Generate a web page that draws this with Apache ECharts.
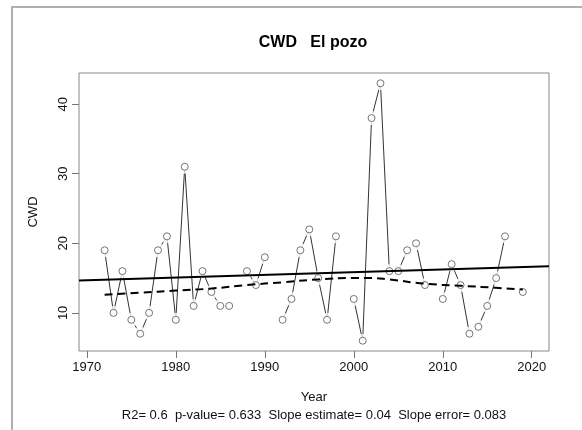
<!DOCTYPE html>
<html>
<head>
<meta charset="utf-8">
<script src="https://cdn.jsdelivr.net/npm/echarts@6/dist/echarts.min.js"></script>
<style>html,body{margin:0;padding:0;background:#fff}#c{width:582px;height:430px}</style>
</head>
<body>
<div id="c"></div>
<script>
// ---- data ----
const years = [1972,1973,1974,1975,1976,1977,1978,1979,1980,1981,1982,1983,1984,1985,1986,1987,1988,1989,1990,1991,1992,1993,1994,1995,1996,1997,1998,1999,2000,2001,2002,2003,2004,2005,2006,2007,2008,2009,2010,2011,2012,2013,2014,2015,2016,2017,2018,2019];
const cwd   = [19,10,16,9,7,10,19,21,9,31,11,16,13,11,11,null,16,14,18,null,9,12,19,22,15,9,21,null,12,6,38,43,16,16,19,20,14,null,12,17,14,7,8,11,15,21,null,13];
const trendYears = [1969.12, 2021.94];
const trendValues = [14.65, 16.7];
const smoothYears = [1972,1976,1980,1984,1988,1992,1996,2000,2002,2004,2008,2012,2016,2019];
const smoothValues = [12.6,12.9,13.2,13.5,14.0,14.4,14.8,15.0,15.0,14.8,14.2,13.9,13.6,13.35];
const xTicks = [1970,1980,1990,2000,2010,2020];
const yTicks = [10,20,30,40];
const titleText = 'CWD   El pozo';
const xName = 'Year';
const yName = 'CWD';
const statsText = 'R2= 0.6  p-value= 0.633  Slope estimate= 0.04  Slope error= 0.083';

const pts = years.map((y,i)=>[y,cwd[i]]);
const valid = pts.filter(p=>p[1]!==null);
const font = 'Liberation Sans, Arial, sans-serif';

const chart = echarts.init(document.getElementById('c'), null, {renderer:'canvas'});
chart.setOption({
  animation:false,
  backgroundColor:'#fff',
  grid:{left:79,right:33,top:73,bottom:79,show:true,borderColor:'#888',borderWidth:1,backgroundColor:'transparent'},
  graphic:[
    {type:'rect',shape:{x:12,y:7,width:620,height:460},style:{fill:'none',stroke:'#b0b0b0',lineWidth:2},silent:true,z:-1},
    {type:'text',x:313,y:43,style:{text:titleText,font:'bold 16px '+font,fill:'#000',textAlign:'center',textVerticalAlign:'middle'}},
    {type:'text',x:314,y:397,style:{text:xName,font:'13px '+font,fill:'#111',textAlign:'center',textVerticalAlign:'middle'}},
    {type:'text',x:314,y:415,style:{text:statsText,font:'13px '+font,fill:'#111',textAlign:'center',textVerticalAlign:'middle'}},
    {type:'text',x:33,y:212,rotation:Math.PI/2,style:{text:yName,font:'13px '+font,fill:'#111',textAlign:'center',textVerticalAlign:'middle'}}
  ],
  xAxis:{type:'value',min:1969.12,max:2021.94,
    axisLine:{show:false},splitLine:{show:false},
    axisTick:{show:true,length:7,customValues:xTicks,lineStyle:{color:'#777'}},
    axisLabel:{customValues:xTicks,formatter:v=>String(v),fontFamily:font,fontSize:13,color:'#111',margin:10}},
  yAxis:{type:'value',min:4.52,max:44.48,
    axisLine:{show:false},splitLine:{show:false},
    axisTick:{show:true,length:7,customValues:yTicks,lineStyle:{color:'#777'}},
    axisLabel:{customValues:yTicks,formatter:v=>String(v),rotate:90,fontFamily:font,fontSize:13,color:'#111',margin:9}},
  series:[
    {type:'line',data:pts,connectNulls:false,showSymbol:false,lineStyle:{color:'#333',width:1},z:1,silent:true},
    {type:'scatter',data:valid,symbol:'circle',symbolSize:14,itemStyle:{color:'#fff'},z:2,silent:true},
    {type:'scatter',data:valid,symbol:'circle',symbolSize:7,itemStyle:{color:'#fff',borderColor:'#555',borderWidth:1},z:3,silent:true},
    {type:'line',data:trendYears.map((y,i)=>[y,trendValues[i]]),showSymbol:false,lineStyle:{color:'#000',width:2},z:4,silent:true},
    {type:'line',data:smoothYears.map((y,i)=>[y,smoothValues[i]]),smooth:true,showSymbol:false,lineStyle:{color:'#000',width:2,type:[8,5]},z:4,silent:true}
  ]
});
</script>
</body>
</html>
